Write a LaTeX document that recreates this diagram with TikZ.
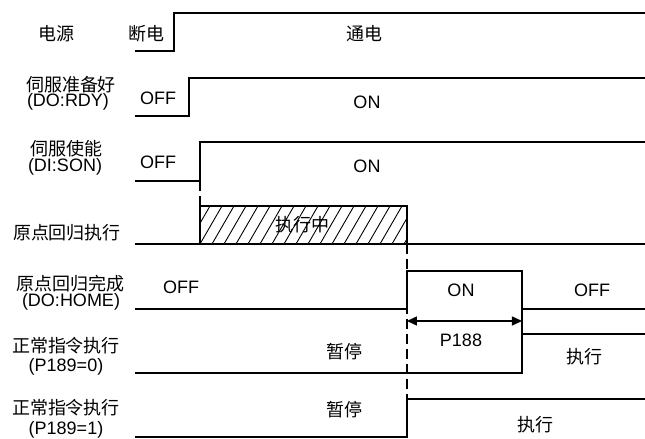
\documentclass[tikz,border=0pt]{standalone}
\usepackage{fontspec}
\setmainfont{Liberation Sans}
\newfontfamily\cjk{Noto Sans CJK SC}
\usetikzlibrary{positioning, arrows.meta}

\begin{document}
\begin{tikzpicture}[
  x=0.5pt, y=-0.5pt,
  wave/.style={line width=0.7pt, line join=miter},
  guide/.style={line width=0.7pt, dash pattern=on 5pt off 2.5pt},
  hatch/.style={line width=0.45pt},
  cn/.style={font=\cjk\fontsize{9}{9}\selectfont, inner sep=0pt},
  en/.style={font=\fontsize{9}{9}\selectfont, inner sep=0pt},
]
\useasboundingbox (0,0) rectangle (645,439);

% Power
\node[cn] (pwr) at (57,34) {电源};
\node[cn] (pwroff) at (146,34) {断电};
\node[cn] (pwron) at (365,34) {通电};
\draw[wave] (135,51) -- (174,51) -- (174,13) -- (645,13);

% Servo ready
\node[cn] (rdy) at (71,85) {伺服准备好};
\node[en] (rdysig) at (68,102) {(DO:RDY)};
\node[en] (rdyoff) at (158,98) {OFF};
\node[en] (rdyon) at (367,102) {ON};
\draw[wave] (135,116) -- (189,116) -- (189,78) -- (645,78);

% Servo enable
\node[cn] (son) at (67,149) {伺服使能};
\node[en] (sonsig) at (65,167) {(DI:SON)};
\node[en] (sonoff) at (158,162) {OFF};
\node[en] (sonon) at (367,166) {ON};
\draw[wave] (135,181) -- (200,181) -- (200,142) -- (645,142);
\draw[guide] (200,181) -- (200,206);

% Homing running
\node[cn] (homrun) at (67,233) {原点回归执行};
\begin{scope}
  \clip (200,206) rectangle (407,244);
  \foreach \hx in {176,188,...,416}
    \draw[hatch] (\hx,244) -- (\hx+22,206);
\end{scope}
\node[cn] (busy) at (303,225) {执行中};
\draw[wave] (135,244) -- (645,244);
\draw[wave] (200,244) -- (200,206) -- (407,206) -- (407,244);
\draw[guide] (407,244) -- (407,400);

% Homing done
\node[cn] (homdone) at (71,284) {原点回归完成};
\node[en] (homsig) at (71,302) {(DO:HOME)};
\node[en] (homoff) at (181,287) {OFF};
\node[en] (homon) at (461,290) {ON};
\node[en] (homoff2) at (592,290) {OFF};
\draw[wave] (135,309) -- (407,309) -- (407,271) -- (522,271) -- (522,309) -- (645,309);
\draw[wave] (522,309) -- (522,334);

% P188 delay
\coordinate (dlya) at (407,321);
\coordinate (dlyb) at (522,321);
\draw[wave, {Triangle[length=5pt,width=4.5pt]}-{Triangle[length=5pt,width=4.5pt]}] (dlya) -- (dlyb);
\node[en] (dly) at (461,340) {P188};

% Normal command, P189=0
\node[cn] (cmd0) at (66,346) {正常指令执行};
\node[en] (cmd0sig) at (66,367) {(P189=0)};
\node[cn] (cmd0hold) at (345,352) {暂停};
\node[cn] (cmd0run) at (585,357) {执行};
\draw[wave] (135,373) -- (522,373) -- (522,334) -- (645,334);

% Normal command, P189=1
\node[cn] (cmd1) at (66,408) {正常指令执行};
\node[en] (cmd1sig) at (66,430) {(P189=1)};
\node[cn] (cmd1hold) at (345,410) {暂停};
\node[cn] (cmd1run) at (536,425) {执行};
\draw[wave] (135,437) -- (407,437) -- (407,399) -- (645,399);

\end{tikzpicture}
\end{document}
